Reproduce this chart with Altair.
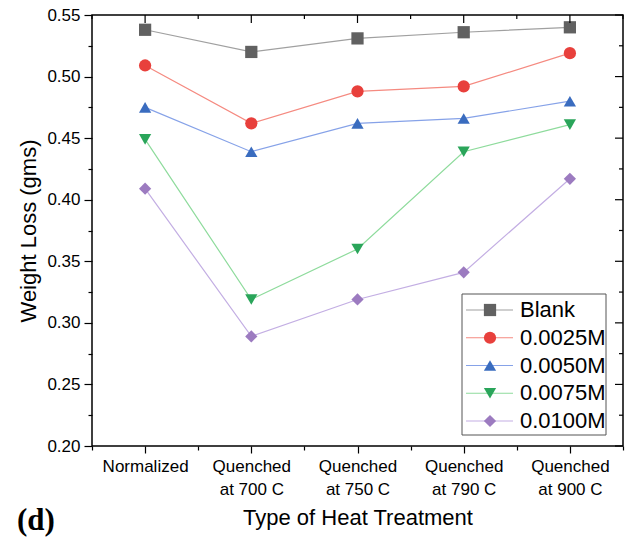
import json
import altair as alt
import pandas as pd

# ---- data ----
treatments = [1, 2, 3, 4, 5]
tick_labels = [["Normalized"], ["Quenched", "at 700 C"], ["Quenched", "at 750 C"],
               ["Quenched", "at 790 C"], ["Quenched", "at 900 C"]]
series = ["Blank", "0.0025M", "0.0050M", "0.0075M", "0.0100M"]
blank = [0.538, 0.520, 0.531, 0.536, 0.540]
m0025 = [0.509, 0.462, 0.488, 0.492, 0.519]
m0050 = [0.475, 0.439, 0.462, 0.466, 0.480]
m0075 = [0.449, 0.319, 0.360, 0.439, 0.461]
m0100 = [0.409, 0.289, 0.319, 0.341, 0.417]
y_major = [0.20, 0.25, 0.30, 0.35, 0.40, 0.45, 0.50, 0.55]
y_minor = [0.225, 0.275, 0.325, 0.375, 0.425, 0.475, 0.525]
x_minor = [0.5, 1.5, 2.5, 3.5, 4.5, 5.5]

marker_colors = ["#616161", "#e8403c", "#3a6cbf", "#2aa55a", "#9c7bc0"]
line_colors = ["#a0a0a0", "#f58a80", "#86a2e8", "#8edb9c", "#c3aee3"]
shapes = ["square", "circle", "triangle-up", "triangle-down", "diamond"]

rows = []
for name, vals in zip(series, [blank, m0025, m0050, m0075, m0100]):
    for t, v in zip(treatments, vals):
        rows.append({"t": t, "w": v, "s": name})
df = pd.DataFrame(rows)
leg_df = pd.DataFrame({"s": series})
one = pd.DataFrame({"k": [0]})

W, H = 531, 431
FONT = "Liberation Sans"
xs = alt.Scale(domain=[0.5, 5.5], nice=False, zero=False)
ys = alt.Scale(domain=[0.2, 0.55], nice=False, zero=False)
label_expr = json.dumps(tick_labels) + "[round(datum.value) - 1]"

stroke_enc = alt.Stroke("s:N", scale=alt.Scale(domain=series, range=line_colors), legend=None)
fill_enc = alt.Fill("s:N", scale=alt.Scale(domain=series, range=marker_colors), legend=None)
shape_enc = alt.Shape("s:N", scale=alt.Scale(domain=series, range=shapes), legend=None)

base = alt.Chart(df)

lines = base.mark_line(strokeWidth=1.2).encode(
    x=alt.X("t:Q", scale=xs, axis=alt.Axis(orient="bottom", values=treatments, labelExpr=label_expr,
                                           tickSize=7, labelPadding=5, labelLineHeight=23,
                                           labelBaseline="top", title="Type of Heat Treatment",
                                           titlePadding=10)),
    y=alt.Y("w:Q", scale=ys, axis=alt.Axis(orient="left", values=y_major, format=".2f", tickSize=8,
                                           labelPadding=4, title="Weight Loss (gms)", titlePadding=6)),
    stroke=stroke_enc,
    order=alt.Order("t:Q"),
)

points = base.mark_point(filled=True, size=150, opacity=1, strokeWidth=0).encode(
    x=alt.X("t:Q", scale=xs, axis=alt.Axis(orient="bottom", values=x_minor, labels=False, tickSize=4,
                                           title=None)),
    y=alt.Y("w:Q", scale=ys, axis=alt.Axis(orient="left", values=y_minor, labels=False, tickSize=4,
                                           title=None)),
    fill=fill_enc,
    shape=shape_enc,
)

# inward ticks on the mirrored top and right edges
top_major = alt.Chart(pd.DataFrame({"v": treatments})).mark_rule(color="black", strokeWidth=1.2).encode(
    x=alt.X("v:Q", scale=xs, axis=None), y=alt.value(0), y2=alt.value(8))
top_minor = alt.Chart(pd.DataFrame({"v": x_minor})).mark_rule(color="black", strokeWidth=1.2).encode(
    x=alt.X("v:Q", scale=xs, axis=None), y=alt.value(0), y2=alt.value(4))
right_major = alt.Chart(pd.DataFrame({"v": y_major})).mark_rule(color="black", strokeWidth=1.2).encode(
    y=alt.Y("v:Q", scale=ys, axis=None), x=alt.value(W - 8), x2=alt.value(W))
right_minor = alt.Chart(pd.DataFrame({"v": y_minor})).mark_rule(color="black", strokeWidth=1.2).encode(
    y=alt.Y("v:Q", scale=ys, axis=None), x=alt.value(W - 4), x2=alt.value(W))

inner = alt.layer(lines, points, top_major, top_minor, right_major, right_minor).resolve_axis(
    x="independent", y="independent")

# ---- legend ----
ly = alt.Y("s:N", scale=alt.Scale(type="point", domain=series, range=[295, 406], padding=0), axis=None)

box = alt.Chart(one).mark_rect(fill="white", stroke="#555555", strokeWidth=1).encode(
    x=alt.value(370), x2=alt.value(514), y=alt.value(279), y2=alt.value(420))
leg_rules = alt.Chart(leg_df).mark_rule(strokeWidth=1.2).encode(
    x=alt.value(374), x2=alt.value(421), y=ly, stroke=stroke_enc)
leg_pts = alt.Chart(leg_df).mark_point(filled=True, size=150, opacity=1, strokeWidth=0).encode(
    x=alt.value(398), y=ly, fill=fill_enc, shape=shape_enc)
leg_text = alt.Chart(leg_df).mark_text(align="left", baseline="middle", font=FONT, fontSize=22,
                                       color="black").encode(x=alt.value(428), y=ly, text="s:N")

panel = alt.Chart(one).mark_text(text="(d)", font="Liberation Serif", fontWeight="bold", fontSize=31,
                                 align="left", baseline="middle", color="black").encode(
    x=alt.value(-75), y=alt.value(506))

chart = alt.layer(inner, box, leg_rules, leg_pts, leg_text, panel).resolve_scale(
    y="independent"
).properties(
    width=W, height=H,
    padding={"left": 92, "top": 15, "right": 11, "bottom": 94},
    autosize=alt.AutoSizeParams(type="none"),
).configure_view(
    stroke="black", strokeWidth=1.5
).configure_axis(
    grid=False, domain=False, tickColor="black", tickWidth=1.2,
    labelFont=FONT, labelFontSize=17, labelColor="black",
    titleFont=FONT, titleFontSize=22, titleFontWeight="normal", titleColor="black",
)

chart.save("out.html", embed_options={"renderer": "svg", "actions": False})
